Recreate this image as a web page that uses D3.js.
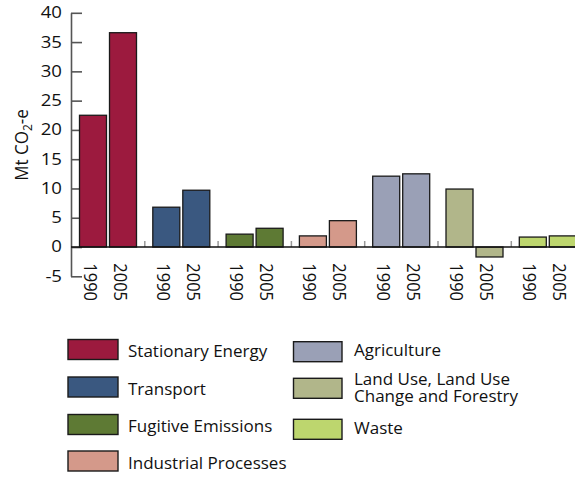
<!DOCTYPE html>
<html>
<head>
<meta charset="utf-8">
<script src="https://cdn.jsdelivr.net/npm/d3@7"></script>
<style>
  body { margin: 0; background: #fff; }
  text { font-family: "Open Sans", sans-serif; fill: #111; }
</style>
</head>
<body>
<div id="chart"></div>
<script>
// emissions by sector, Mt CO2-e
const sectors = ["Stationary Energy", "Transport", "Fugitive Emissions", "Industrial Processes",
                 "Agriculture", "Land Use, Land Use Change and Forestry", "Waste"];
const years = ["1990", "2005"];
const values1990 = [22.5, 6.8, 2.2, 1.9, 12.1, 9.9, 1.7];
const values2005 = [36.6, 9.7, 3.2, 4.5, 12.5, -1.7, 1.9];
const colors = ["#9c1a3e", "#3a5880", "#5e7a34", "#d4998a", "#9aa0b6", "#b1b68a", "#bdd66e"];
const yTicks = [-5, 0, 5, 10, 15, 20, 25, 30, 35, 40];
const legendLines = [["Stationary Energy"], ["Transport"], ["Fugitive Emissions"], ["Industrial Processes"],
                     ["Agriculture"], ["Land Use, Land Use", "Change and Forestry"], ["Waste"]];

function createChart() {
  const W = 575, H = 477;
  const axisX = 71;

  const svg = d3.select("#chart").append("svg")
    .attr("width", W)
    .attr("height", H);

  const y = d3.scaleLinear().domain([-5, 40]).range([276.3, 12.8]);

  const x = d3.scaleBand().domain(sectors).range([71.5, 71.5 + 7 * 73.3]);
  const xi = d3.scaleBand().domain(years).range([8, 65]).paddingInner(0.1);

  const bars = [];
  sectors.forEach((s, i) => {
    bars.push({ sector: s, year: "1990", value: values1990[i], color: colors[i] });
    bars.push({ sector: s, year: "2005", value: values2005[i], color: colors[i] });
  });

  // y axis, ticks pointing into the plot
  const yAxis = svg.append("g")
    .attr("transform", `translate(${axisX},0)`)
    .call(d3.axisLeft(y).tickValues(yTicks).tickSizeInner(-11).tickSizeOuter(0).tickPadding(9).tickFormat(d => String(d)));
  yAxis.select(".domain").attr("stroke", "#555").attr("stroke-width", 1.6);
  yAxis.selectAll(".tick line").attr("stroke", "#555").attr("stroke-width", 1.6);
  yAxis.selectAll(".tick text")
    .attr("font-family", "Open Sans")
    .attr("font-size", 15.5)
    .attr("fill", "#111")
    .attr("transform", function () {
      const xx = +d3.select(this).attr("x");
      return `translate(${-xx * 0.2},0) scale(1.2,1)`;
    });

  // y title
  const yt = svg.append("text")
    .attr("transform", `translate(28,145) scale(1.12,1) rotate(-90)`)
    .attr("text-anchor", "middle")
    .attr("font-size", 17);
  yt.append("tspan").text("Mt CO");
  yt.append("tspan").attr("font-size", 12).attr("dy", 4).text("2");
  yt.append("tspan").attr("dy", -4).text("-e");

  // bars
  svg.selectAll("rect.bar")
    .data(bars)
    .enter()
    .append("rect")
      .attr("class", "bar")
      .attr("x", d => x(d.sector) + xi(d.year))
      .attr("y", d => y(Math.max(0, d.value)))
      .attr("width", xi.bandwidth())
      .attr("height", d => Math.abs(y(d.value) - y(0)))
      .attr("fill", d => d.color)
      .attr("stroke", "#1a1a1a")
      .attr("stroke-width", 1.3);

  // small separators between groups
  svg.selectAll("line.sep")
    .data(sectors.slice(1))
    .enter()
    .append("line")
      .attr("x1", d => x(d)).attr("x2", d => x(d))
      .attr("y1", y(0) - 6).attr("y2", y(0))
      .attr("stroke", "#999")
      .attr("stroke-width", 1.5);

  // zero line
  svg.append("line")
    .attr("x1", axisX).attr("x2", W)
    .attr("y1", y(0)).attr("y2", y(0))
    .attr("stroke", "#111")
    .attr("stroke-width", 1.6);

  // year labels under each bar
  svg.selectAll("text.year")
    .data(bars)
    .enter()
    .append("text")
      .attr("class", "year")
      .attr("font-size", 16.5)
      .attr("transform", d => {
        const cx = x(d.sector) + xi(d.year) + xi.bandwidth() / 2 - 2.5;
        return `translate(${cx - 7},${y(-5) - 13}) scale(1.15,1) rotate(90)`;
      })
      .text(d => d.year);

  // legend
  const leftTops = [339.5, 377, 414.5, 451];
  const rightTops = [341.7, 378.3, 419.3];
  const legend = sectors.map((s, i) => {
    const left = i < 4;
    const top = left ? leftTops[i] : rightTops[i - 4];
    return {
      lines: legendLines[i], color: colors[i],
      sx: left ? 68 : 293.5, sw: left ? 50 : 48.5, top: top,
      tx: left ? 128 : 354, base: left ? top + 17.5 : top + 14.5
    };
  });

  const lg = svg.selectAll("g.leg")
    .data(legend)
    .enter()
    .append("g");

  lg.append("rect")
    .attr("x", d => d.sx)
    .attr("y", d => d.top)
    .attr("width", d => d.sw)
    .attr("height", 20)
    .attr("fill", d => d.color)
    .attr("stroke", "#1a1a1a")
    .attr("stroke-width", 1.4);

  lg.each(function (d) {
    const multi = d.lines.length > 1;
    const t = d3.select(this).append("text")
      .attr("x", d.tx)
      .attr("y", multi ? d.top + 6.7 : d.base)
      .attr("font-size", 17);
    d.lines.forEach((ln, k) => {
      t.append("tspan")
        .attr("x", d.tx)
        .attr("dy", k === 0 ? 0 : 16.7)
        .text(ln);
    });
  });
}

createChart();
</script>
</body>
</html>
